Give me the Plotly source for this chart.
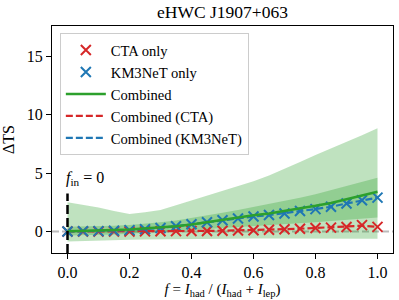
import plotly.graph_objects as go

f_vals = [0.0, 0.05, 0.1, 0.15, 0.2, 0.25, 0.3, 0.35, 0.4, 0.45, 0.5,
          0.55, 0.6, 0.65, 0.7, 0.75, 0.8, 0.85, 0.9, 0.95, 1.0]

cta_only = [0.0, 0.0, 0.0, 0.0, 0.0, 0.01, 0.02, 0.03, 0.04, 0.05, 0.07,
            0.09, 0.11, 0.15, 0.2, 0.24, 0.3, 0.33, 0.38, 0.55, 0.4]
km3net_only = [0.0, 0.02, 0.03, 0.06, 0.12, 0.2, 0.3, 0.45, 0.62, 0.8, 0.97,
               1.12, 1.28, 1.41, 1.55, 1.75, 1.92, 2.12, 2.4, 2.68, 2.9]
combined = [0.02, 0.04, 0.07, 0.12, 0.18, 0.26, 0.35, 0.46, 0.6, 0.8, 1.05,
            1.25, 1.4, 1.55, 1.75, 1.95, 2.2, 2.45, 2.75, 3.05, 3.4]
combined_cta = [0.0, 0.0, 0.0, 0.0, 0.0, 0.01, 0.02, 0.03, 0.04, 0.05, 0.07,
                0.09, 0.11, 0.15, 0.2, 0.24, 0.3, 0.33, 0.38, 0.5, 0.4]
combined_km3 = [0.0, 0.02, 0.03, 0.06, 0.12, 0.2, 0.3, 0.45, 0.62, 0.8, 0.97,
                1.12, 1.28, 1.41, 1.55, 1.75, 1.92, 2.12, 2.4, 2.68, 2.9]

outer_hi = [2.5, 2.3, 2.05, 1.75, 1.5, 1.65, 1.85, 2.25, 2.65, 3.05, 3.5,
            3.9, 4.3, 4.8, 5.35, 5.95, 6.55, 7.1, 7.7, 8.25, 8.85]
outer_lo = [-0.85, -0.8, -0.75, -0.72, -0.7, -0.68, -0.66, -0.65, -0.65, -0.64, -0.63,
            -0.62, -0.6, -0.6, -0.6, -0.6, -0.6, -0.6, -0.6, -0.62, -0.63]
inner_hi = [0.4, 0.42, 0.45, 0.5, 0.55, 0.65, 0.8, 0.95, 1.15, 1.35, 1.6,
            1.85, 2.1, 2.35, 2.6, 2.9, 3.2, 3.55, 3.9, 4.25, 4.6]
inner_lo = [-0.35, -0.33, -0.3, -0.25, -0.2, -0.12, -0.05, 0.02, 0.1, 0.2, 0.3,
            0.38, 0.45, 0.52, 0.6, 0.7, 0.8, 0.9, 1.0, 1.1, 1.2]

x_ticks = [0.0, 0.2, 0.4, 0.6, 0.8, 1.0]
x_tick_text = ["0.0", "0.2", "0.4", "0.6", "0.8", "1.0"]
y_ticks = [0, 5, 10, 15]

RED = "#d62728"
BLUE = "#1f77b4"
GREEN = "#2ca02c"
BAND = "rgba(44,160,44,0.3)"
FONT = "Liberation Serif"

fig = go.Figure()

# bands
for lo, hi in [(outer_lo, outer_hi), (inner_lo, inner_hi)]:
    fig.add_trace(go.Scatter(x=f_vals, y=lo, mode="lines", line=dict(width=0),
                             showlegend=False, hoverinfo="skip"))
    fig.add_trace(go.Scatter(x=f_vals, y=hi, mode="lines", line=dict(width=0),
                             fill="tonexty", fillcolor=BAND,
                             showlegend=False, hoverinfo="skip"))

fig.add_trace(go.Scatter(x=f_vals, y=cta_only, mode="markers", name="CTA only",
                         legendrank=1,
                         marker=dict(symbol="x-thin", size=10, color=RED,
                                     line=dict(color=RED, width=2))))
fig.add_trace(go.Scatter(x=f_vals, y=km3net_only, mode="markers", name="KM3NeT only",
                         legendrank=2,
                         marker=dict(symbol="x-thin", size=10, color=BLUE,
                                     line=dict(color=BLUE, width=2))))
fig.add_trace(go.Scatter(x=f_vals, y=combined_cta, mode="lines", name="Combined (CTA)",
                         legendrank=4,
                         line=dict(color=RED, width=2.2, dash="7px,3px")))
fig.add_trace(go.Scatter(x=f_vals, y=combined_km3, mode="lines", name="Combined (KM3NeT)",
                         legendrank=5,
                         line=dict(color=BLUE, width=2.2, dash="7px,3px")))
fig.add_trace(go.Scatter(x=f_vals, y=combined, mode="lines", name="Combined",
                         legendrank=3,
                         line=dict(color=GREEN, width=2.5)))

ymin, ymax = -1.84, 17.6
fig.add_hline(y=0, line=dict(color="#bbbbbb", width=2, dash="7px,3px"), layer="below")
fig.add_shape(type="line", x0=0, x1=0, y0=ymin, y1=3.25, xref="x", yref="y",
              line=dict(color="black", width=2.5, dash="9px,4px"))
fig.add_annotation(x=-0.012, y=4.5, xref="x", yref="y", xanchor="left", yanchor="middle",
                   text="<i>f</i><sub>in</sub> = 0", showarrow=False,
                   font=dict(family=FONT, size=16, color="black"))

axis_common = dict(showline=True, linecolor="black", linewidth=1.3, mirror=True,
                   ticks="outside", ticklen=5, tickwidth=1.1, tickcolor="black",
                   showgrid=False, zeroline=False,
                   tickfont=dict(family=FONT, size=16, color="black"))

fig.update_layout(
    width=399, height=300,
    margin=dict(l=52, r=5, t=26, b=45),
    plot_bgcolor="white", paper_bgcolor="white",
    title=dict(text="eHWC J1907+063", x=0.5, xref="paper", y=0.96, yref="container",
               xanchor="center", yanchor="middle",
               font=dict(family=FONT, size=17.5, color="black")),
    xaxis=dict(range=[-0.05, 1.05], tickvals=x_ticks, ticktext=x_tick_text,
               title=dict(text="<i>f</i> = <i>I</i><sub>had</sub> / (<i>I</i><sub>had</sub> + <i>I</i><sub>lep</sub>)",
                          font=dict(family=FONT, size=15, color="black"), standoff=3),
               **axis_common),
    yaxis=dict(range=[ymin, ymax], tickvals=y_ticks,
               title=dict(text="ΔTS", font=dict(family=FONT, size=16, color="black"), standoff=10),
               **axis_common),
    legend=dict(x=0.023, y=0.969, xanchor="left", yanchor="top",
                traceorder="normal",
                bgcolor="rgba(255,255,255,0.85)", bordercolor="#cccccc", borderwidth=1,
                font=dict(family=FONT, size=14.6, color="black"),
                itemwidth=40),
    showlegend=True,
)

fig.write_html("out.html", config={"displayModeBar": False},
               post_script="document.body.style.margin='0';document.body.style.padding='0';")
